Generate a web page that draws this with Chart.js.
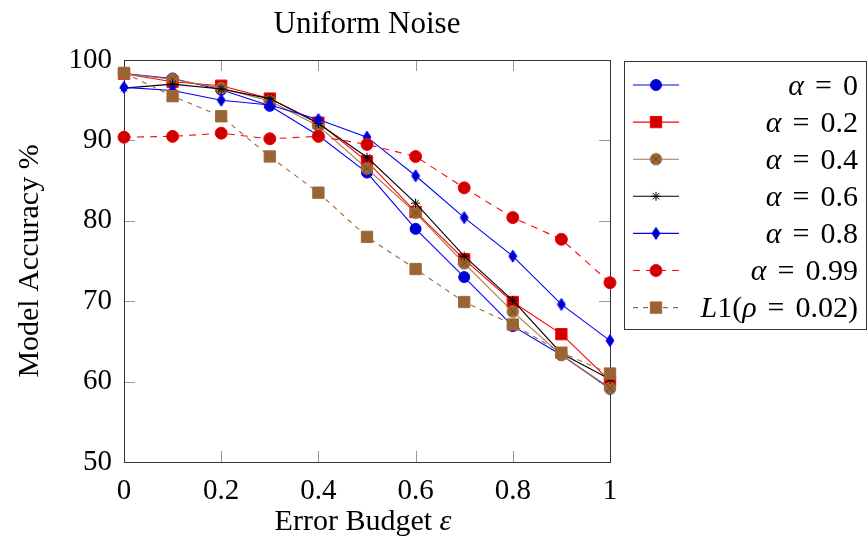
<!DOCTYPE html>
<html>
<head>
<meta charset="utf-8">
<script src="https://cdn.jsdelivr.net/npm/chart.js@4/dist/chart.umd.min.js"></script>
<style>
  body { margin: 0; background: #fff; }
  canvas { display: block; }
</style>
</head>
<body>
<canvas id="chart" width="867" height="550"></canvas>
<script>
// DATA
const budgets = [0, 0.1, 0.2, 0.3, 0.4, 0.5, 0.6, 0.7, 0.8, 0.9, 1];
const alpha0 = [98.3, 97.7, 96.3, 94.3, 90.6, 86.0, 79.0, 73.0, 66.9, 63.3, 59.1];
const alpha02 = [98.3, 97.3, 96.8, 95.2, 92.2, 87.4, 81.1, 75.2, 69.9, 65.9, 60.1];
const alpha04 = [98.3, 97.6, 96.5, 94.9, 91.8, 86.5, 81.0, 74.7, 68.7, 63.3, 59.2];
const alpha06 = [96.5, 97.0, 96.4, 95.2, 92.1, 87.9, 82.2, 75.6, 70.1, 63.5, 60.3];
const alpha08 = [96.6, 96.2, 95.0, 94.4, 92.6, 90.4, 85.6, 80.4, 75.6, 69.6, 65.1];
const alpha099 = [90.4, 90.5, 90.9, 90.2, 90.5, 89.5, 88.0, 84.1, 80.4, 77.7, 72.3];
const l1 = [98.4, 95.5, 93.0, 88.0, 83.5, 78.0, 74.0, 69.9, 67.1, 63.6, 61.0];

const seriesLabels = ["α = 0", "α = 0.2", "α = 0.4", "α = 0.6", "α = 0.8", "α = 0.99", "L1(ρ = 0.02)"];
const xTicks = [0, 0.2, 0.4, 0.6, 0.8, 1];
const yTicks = [50, 60, 70, 80, 90, 100];

const FONT = "'Liberation Serif', 'Times New Roman', serif";

// custom marks (otimes, diamond)
function makeOtimes() {
  const c = document.createElement("canvas");
  c.width = 14; c.height = 14;
  const g = c.getContext("2d");
  g.beginPath();
  g.arc(7, 7, 5.8, 0, Math.PI * 2);
  g.fillStyle = "#996633";
  g.fill();
  g.strokeStyle = "#a87440";
  g.lineWidth = 1;
  g.stroke();
  const d = 5.8 * Math.SQRT1_2;
  g.beginPath();
  g.moveTo(7 - d, 7 - d); g.lineTo(7 + d, 7 + d);
  g.moveTo(7 + d, 7 - d); g.lineTo(7 - d, 7 + d);
  g.strokeStyle = "#6b4520";
  g.lineWidth = 0.8;
  g.stroke();
  return c;
}
function makeDiamond() {
  const c = document.createElement("canvas");
  c.width = 10; c.height = 14;
  const g = c.getContext("2d");
  g.beginPath();
  g.moveTo(5, 1); g.lineTo(9, 7); g.lineTo(5, 13); g.lineTo(1, 7); g.closePath();
  g.fillStyle = "#0000cc";
  g.fill();
  g.strokeStyle = "#0000ff";
  g.lineWidth = 1;
  g.stroke();
  return c;
}
const otimes = makeOtimes();
const diamond = makeDiamond();

function pts(vals) {
  return budgets.map(function (x, i) { return { x: x, y: vals[i] }; });
}

const styles = [
  { line: "#0000ff", fill: "#0000cc", point: "circle", r: 5.5, dash: [] },
  { line: "#ff0000", fill: "#cc0000", point: "rect", r: 8, dash: [] },
  { line: "#a87440", fill: "#996633", point: otimes, r: 6, dash: [] },
  { line: "#000000", fill: "#000000", point: "star", r: 4.5, dash: [] },
  { line: "#0000ff", fill: "#0000cc", point: diamond, r: 6, dash: [] },
  { line: "#ff0000", fill: "#cc0000", point: "circle", r: 6, dash: [7, 6] },
  { line: "#9c6a38", fill: "#996633", point: "rect", r: 8, dash: [5, 5] }
];
const series = [alpha0, alpha02, alpha04, alpha06, alpha08, alpha099, l1];

const datasets = series.map(function (vals, i) {
  const s = styles[i];
  return {
    label: seriesLabels[i],
    data: pts(vals),
    borderColor: s.line,
    backgroundColor: s.fill,
    borderWidth: 1.1,
    borderDash: s.dash,
    pointStyle: s.point,
    pointRadius: s.r,
    pointBorderColor: s.line,
    pointBackgroundColor: s.fill,
    pointBorderWidth: 1,
    tension: 0,
    clip: false,
    order: series.length - i
  };
});

// italic for math symbols, wider spaces like math mode
function drawRuns(ctx, text, xRight, y, size, space) {
  const runs = Array.from(text).map(function (ch) {
    return { ch: ch, it: "αρLε".indexOf(ch) >= 0 };
  });
  let w = 0;
  runs.forEach(function (r) {
    ctx.font = (r.it ? "italic " : "") + size + "px " + FONT;
    r.w = (r.ch === " " && space) ? space : ctx.measureText(r.ch).width;
    w += r.w;
  });
  let x = xRight - w;
  ctx.textAlign = "left";
  runs.forEach(function (r) {
    ctx.font = (r.it ? "italic " : "") + size + "px " + FONT;
    if (r.ch !== " ") ctx.fillText(r.ch, x, y);
    x += r.w;
  });
  return w;
}

function drawMark(ctx, s, x, y) {
  ctx.save();
  ctx.setLineDash([]);
  if (s.point instanceof HTMLCanvasElement) {
    ctx.drawImage(s.point, x - s.point.width / 2, y - s.point.height / 2);
  } else if (s.point === "circle") {
    ctx.beginPath();
    ctx.arc(x, y, s.r, 0, Math.PI * 2);
    ctx.fillStyle = s.fill; ctx.fill();
    ctx.strokeStyle = s.line; ctx.lineWidth = 1; ctx.stroke();
  } else if (s.point === "rect") {
    const h = s.r * Math.SQRT1_2;
    ctx.fillStyle = s.fill;
    ctx.fillRect(x - h, y - h, 2 * h, 2 * h);
    ctx.strokeStyle = s.line; ctx.lineWidth = 1;
    ctx.strokeRect(x - h, y - h, 2 * h, 2 * h);
  } else if (s.point === "star") {
    ctx.beginPath();
    for (let k = 0; k < 4; k++) {
      const a = k * Math.PI / 4;
      ctx.moveTo(x - Math.cos(a) * s.r, y - Math.sin(a) * s.r);
      ctx.lineTo(x + Math.cos(a) * s.r, y + Math.sin(a) * s.r);
    }
    ctx.strokeStyle = s.line; ctx.lineWidth = 1; ctx.stroke();
  }
  ctx.restore();
}

const framePlugin = {
  id: "frame",
  beforeDatasetsDraw: function (chart) {
    const ctx = chart.ctx;
    const a = chart.chartArea;
    const xs = chart.scales.x, ys = chart.scales.y;
    ctx.save();
    ctx.strokeStyle = "#999";
    ctx.lineWidth = 1;
    ctx.beginPath();
    xTicks.forEach(function (v) {
      const px = Math.round(xs.getPixelForValue(v)) + 0.5;
      ctx.moveTo(px, a.bottom); ctx.lineTo(px, a.bottom - 11);
      ctx.moveTo(px, a.top); ctx.lineTo(px, a.top + 11);
    });
    yTicks.forEach(function (v) {
      const py = Math.round(ys.getPixelForValue(v)) + 0.5;
      ctx.moveTo(a.left, py); ctx.lineTo(a.left + 11, py);
      ctx.moveTo(a.right, py); ctx.lineTo(a.right - 11, py);
    });
    ctx.stroke();
    ctx.strokeStyle = "#333";
    ctx.strokeRect(Math.round(a.left) + 0.5, Math.round(a.top) + 0.5,
      Math.round(a.right - a.left), Math.round(a.bottom - a.top));
    ctx.restore();
  },
  afterDraw: function (chart) {
    const ctx = chart.ctx;
    const a = chart.chartArea;
    ctx.save();
    ctx.fillStyle = "#000";
    ctx.textBaseline = "alphabetic";
    // title
    ctx.font = "31px " + FONT;
    ctx.textAlign = "center";
    ctx.fillText("Uniform Noise", (a.left + a.right) / 2, 33);
    // x title
    const xt = "Error Budget ε";
    let w = 0;
    ctx.font = "30px " + FONT; w += ctx.measureText("Error Budget ").width;
    ctx.font = "italic 30px " + FONT; w += ctx.measureText("ε").width;
    drawRuns(ctx, xt, (a.left + a.right) / 2 - 4 + w / 2, 530, 30);
    // y title
    ctx.save();
    ctx.translate(38, (a.top + a.bottom) / 2);
    ctx.rotate(-Math.PI / 2);
    ctx.font = "30px " + FONT;
    ctx.textAlign = "center";
    ctx.fillText("Model Accuracy %", 0, 0);
    ctx.restore();

    // legend
    ctx.strokeStyle = "#333";
    ctx.lineWidth = 1;
    ctx.strokeRect(624.5, 61.5, 242, 268);
    ctx.textBaseline = "middle";
    chart.data.datasets.forEach(function (ds, i) {
      const s = styles[i];
      const y = 85 + i * 37.1;
      ctx.save();
      ctx.strokeStyle = s.line;
      ctx.lineWidth = 1.1;
      ctx.setLineDash(s.dash);
      ctx.beginPath();
      ctx.moveTo(633, y); ctx.lineTo(679, y);
      ctx.stroke();
      ctx.restore();
      drawMark(ctx, s, 656, y);
      ctx.fillStyle = "#000";
      drawRuns(ctx, ds.label, 858, y + 2, 30, 11);
    });
    ctx.restore();
  }
};

const ctx = document.getElementById("chart");

new Chart(ctx, {
  type: "line",
  data: { datasets: datasets },
  plugins: [framePlugin],
  options: {
    responsive: false,
    animation: false,
    layout: { padding: { top: 60, right: 257, left: 0, bottom: 0 } },
    plugins: {
      legend: { display: false },
      title: { display: false },
      tooltip: { enabled: false }
    },
    scales: {
      x: {
        type: "linear",
        min: 0,
        max: 1,
        grid: { display: false, drawTicks: false },
        border: { display: false },
        afterBuildTicks: function (scale) {
          scale.ticks = xTicks.map(function (v) { return { value: v }; });
        },
        afterFit: function (scale) { scale.height = 88; },
        ticks: {
          padding: 12,
          color: "#000",
          maxRotation: 0,
          font: { family: FONT, size: 29 },
          callback: function (v) { return String(+Number(v).toFixed(1)); }
        }
      },
      y: {
        type: "linear",
        min: 50,
        max: 100,
        grid: { display: false, drawTicks: false },
        border: { display: false },
        afterBuildTicks: function (scale) {
          scale.ticks = yTicks.map(function (v) { return { value: v }; });
        },
        afterFit: function (scale) { scale.width = 124; },
        ticks: {
          padding: 12,
          color: "#000",
          font: { family: FONT, size: 29 }
        }
      }
    }
  }
});
</script>
</body>
</html>
